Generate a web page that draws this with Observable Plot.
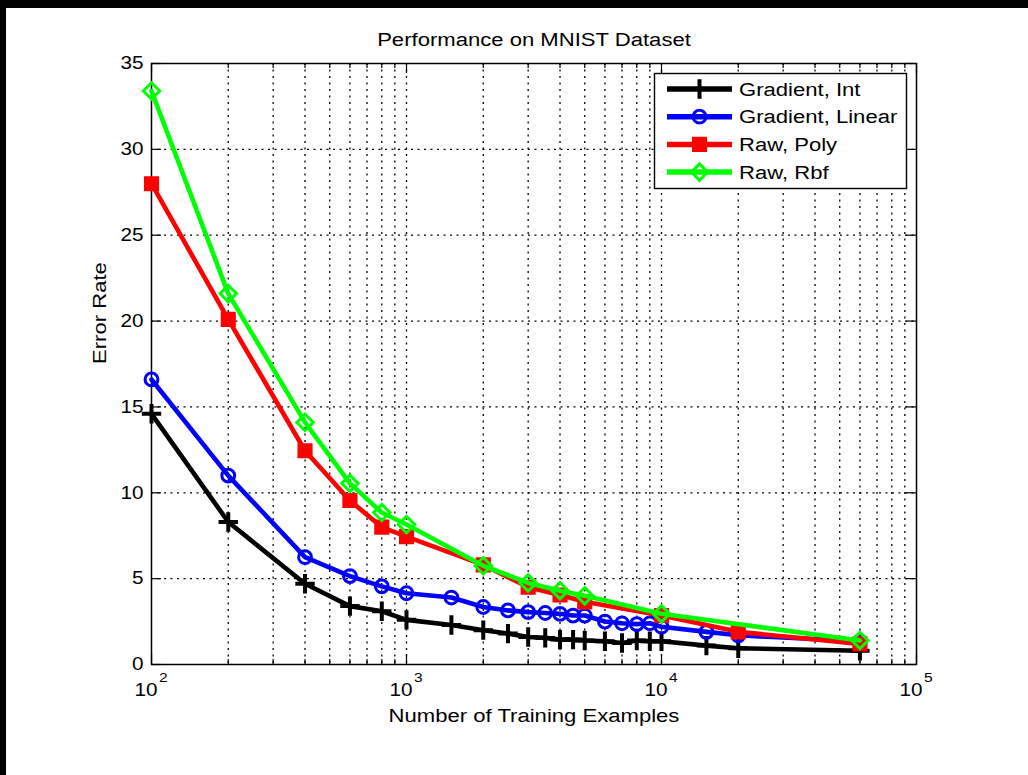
<!DOCTYPE html>
<html><head><meta charset="utf-8">
<script src="https://cdn.jsdelivr.net/npm/d3@7"></script>
<script src="https://cdn.jsdelivr.net/npm/@observablehq/plot@0.6"></script>
<style>
body{margin:0;background:#fff;}
#wrap{position:relative;width:1028px;height:775px;overflow:hidden;background:#fff;}
#wrap svg{position:absolute;left:0;top:0;}
.bar{position:absolute;background:#000;}
</style></head><body>
<div id="wrap"></div>
<script>
const title = "Performance on MNIST Dataset";
const xLabel = "Number of Training Examples";
const yLabel = "Error Rate";
const seriesNames = ["Gradient, Int", "Gradient, Linear", "Raw, Poly", "Raw, Rbf"];
const seriesColors = ["#000000", "#0000ff", "#ff0000", "#00ff00"];
const seriesSymbols = ["plus", "circle", "square", "diamond2"];

const xGradient = [100, 200, 400, 600, 800, 1000, 1500, 2000, 2500, 3000, 3500, 4000, 4500, 5000, 6000, 7000, 8000, 9000, 10000, 15000, 20000, 60000];
const gradientInt = [14.6, 8.3, 4.7, 3.4, 3.1, 2.6, 2.3, 2.0, 1.8, 1.6, 1.55, 1.45, 1.45, 1.4, 1.35, 1.25, 1.4, 1.35, 1.35, 1.1, 0.95, 0.8];
const gradientLinear = [16.6, 11.0, 6.25, 5.15, 4.55, 4.15, 3.9, 3.35, 3.15, 3.05, 3.0, 2.95, 2.85, 2.85, 2.5, 2.4, 2.35, 2.4, 2.2, 1.9, 1.7, 1.35];
const xRawPoly = [100, 200, 400, 600, 800, 1000, 2000, 3000, 4000, 5000, 10000, 20000, 60000];
const rawPoly = [28.0, 20.1, 12.45, 9.55, 8.0, 7.45, 5.8, 4.5, 4.05, 3.65, 2.85, 1.9, 1.2];
const xRawRbf = [100, 200, 400, 600, 800, 1000, 2000, 3000, 4000, 5000, 10000, 60000];
const rawRbf = [33.4, 21.6, 14.1, 10.55, 8.85, 8.15, 5.75, 4.75, 4.3, 4.0, 2.95, 1.4];

const xMajorTicks = [100, 1000, 10000, 100000];
const xMajorBase = ["10", "10", "10", "10"];
const xMajorExp = ["2", "3", "4", "5"];
const xMinorTicks = [200, 300, 400, 500, 600, 700, 800, 900, 2000, 3000, 4000, 5000, 6000, 7000, 8000, 9000, 20000, 30000, 40000, 50000, 60000, 70000, 80000, 90000];
const yTicks = [0, 5, 10, 15, 20, 25, 30, 35];

const seriesX = [xGradient, xGradient, xRawPoly, xRawRbf];
const seriesY = [gradientInt, gradientLinear, rawPoly, rawRbf];
const seriesR = [6.3, 6.4, 7.4, 7.4];
const seriesFill = ["none", "none", "#ff0000", "none"];
const seriesSW = [4, 3, 2, 3];

const W = 1028, H = 775;
const mL = 151, mR = 112, mT = 63, mB = 111;
const plotW = W - mL - mR, plotH = H - mT - mB;
const stretch = 1.15;

const rows = seriesNames.map((name, s) => seriesX[s].map((x, i) => ({series: name, x, y: seriesY[s][i]})));

const gridDash = "2,4.5";
const marks = [
  Plot.ruleX([...xMajorTicks.slice(1, -1), ...xMinorTicks], {x: d => d, stroke: "#000", strokeWidth: 1.3, strokeDasharray: gridDash}),
  Plot.ruleY(yTicks.slice(1, -1), {y: d => d, stroke: "#000", strokeWidth: 1.3, strokeDasharray: gridDash}),
  Plot.tickX(xMajorTicks, {x: d => d, insetTop: plotH - 10, stroke: "#000", strokeWidth: 1.2}),
  Plot.tickX(xMajorTicks, {x: d => d, insetBottom: plotH - 10, stroke: "#000", strokeWidth: 1.2}),
  Plot.tickX(xMinorTicks, {x: d => d, insetTop: plotH - 5, stroke: "#000", strokeWidth: 1.2}),
  Plot.tickX(xMinorTicks, {x: d => d, insetBottom: plotH - 5, stroke: "#000", strokeWidth: 1.2}),
  Plot.tickY(yTicks, {y: d => d, insetRight: plotW - 10, stroke: "#000", strokeWidth: 1.2}),
  Plot.tickY(yTicks, {y: d => d, insetLeft: plotW - 10, stroke: "#000", strokeWidth: 1.2}),
  Plot.frame({stroke: "#000", strokeWidth: 1.5}),
];
seriesNames.forEach((name, s) => {
  marks.push(Plot.line(rows[s], {x: "x", y: "y", stroke: seriesColors[s], strokeWidth: 4.6, strokeLinejoin: "round"}));
  marks.push(Plot.dot(rows[s], {x: "x", y: "y", symbol: () => seriesSymbols[s], r: seriesR[s], stroke: seriesColors[s], fill: seriesFill[s], strokeWidth: seriesSW[s]}));
});
marks.push(
  Plot.axisY(yTicks, {tickSize: 0, tickPadding: 8, label: null, fontSize: 18}),
  Plot.text(xMajorTicks, {x: d => d, text: (d, i) => xMajorBase[i], frameAnchor: "bottom", textAnchor: "end", lineAnchor: "top", dx: 6, dy: 19, fontSize: 18}),
  Plot.text(xMajorTicks, {x: d => d, text: (d, i) => xMajorExp[i], frameAnchor: "bottom", textAnchor: "start", lineAnchor: "top", dx: 7.5, dy: 8, fontSize: 13.5}),
  Plot.text([title], {text: d => d, frameAnchor: "top", lineAnchor: "bottom", dy: -18, fontSize: 19.2}),
  Plot.text([xLabel], {text: d => d, frameAnchor: "bottom", lineAnchor: "bottom", dy: 57, fontSize: 19.2}),
  Plot.text([yLabel], {text: d => d, frameAnchor: "left", lineAnchor: "bottom", rotate: -90, dx: -46, fontSize: 19.2})
);

const chart = Plot.plot({
  width: W, height: H,
  marginLeft: mL, marginRight: mR, marginTop: mT, marginBottom: mB,
  x: {type: "log", domain: [100, 100000], axis: null},
  y: {domain: [0, 35]},
  style: {fontFamily: "'Liberation Sans', Arial, sans-serif", fontSize: "18px", background: "#fff", color: "#000"},
  marks
});

chart.querySelectorAll("text").forEach(t => {
  const x = parseFloat(t.getAttribute("x") || 0) || 0, y = parseFloat(t.getAttribute("y") || 0) || 0;
  const tr = t.getAttribute("transform") || "";
  t.setAttribute("transform", `${tr} translate(${x},${y}) scale(${stretch},1) translate(${-x},${-y})`);
});

const wrap = document.getElementById("wrap");
wrap.appendChild(chart);

// legend overlay
const symbolMap = {plus: d3.symbolPlus, circle: d3.symbolCircle, square: d3.symbolSquare, diamond2: d3.symbolDiamond2};
const leg = d3.select(wrap).append("svg").attr("width", W).attr("height", H).style("pointer-events", "none");
const lx = 654, ly = 73, lw = 252, lh = 115;
leg.append("rect").attr("x", lx + 0.5).attr("y", ly + 0.5).attr("width", lw).attr("height", lh).attr("fill", "#fff").attr("stroke", "#000").attr("stroke-width", 1.4);
seriesNames.forEach((name, s) => {
  const cy = 89 + s * 27.7;
  leg.append("line").attr("x1", 667).attr("x2", 732).attr("y1", cy).attr("y2", cy).attr("stroke", seriesColors[s]).attr("stroke-width", 5.5);
  leg.append("path").attr("d", d3.symbol(symbolMap[seriesSymbols[s]], Math.PI * seriesR[s] * seriesR[s])())
    .attr("transform", `translate(699.5,${cy})`)
    .attr("fill", seriesFill[s]).attr("stroke", seriesColors[s]).attr("stroke-width", seriesSW[s]);
  leg.append("text").attr("x", 739).attr("y", cy).attr("dy", "0.35em")
    .attr("font-family", "'Liberation Sans', Arial, sans-serif").attr("font-size", 19.2).attr("fill", "#000")
    .attr("transform", `translate(739,${cy}) scale(${stretch},1) translate(-739,${-cy})`)
    .text(name);
});

// black strips at the image edges
const topBar = document.createElement("div"); topBar.className = "bar";
Object.assign(topBar.style, {left: "0px", top: "0px", width: W + "px", height: "8px"});
const leftBar = document.createElement("div"); leftBar.className = "bar";
Object.assign(leftBar.style, {left: "0px", top: "0px", width: "6px", height: H + "px"});
wrap.appendChild(topBar); wrap.appendChild(leftBar);
</script>
</body></html>
